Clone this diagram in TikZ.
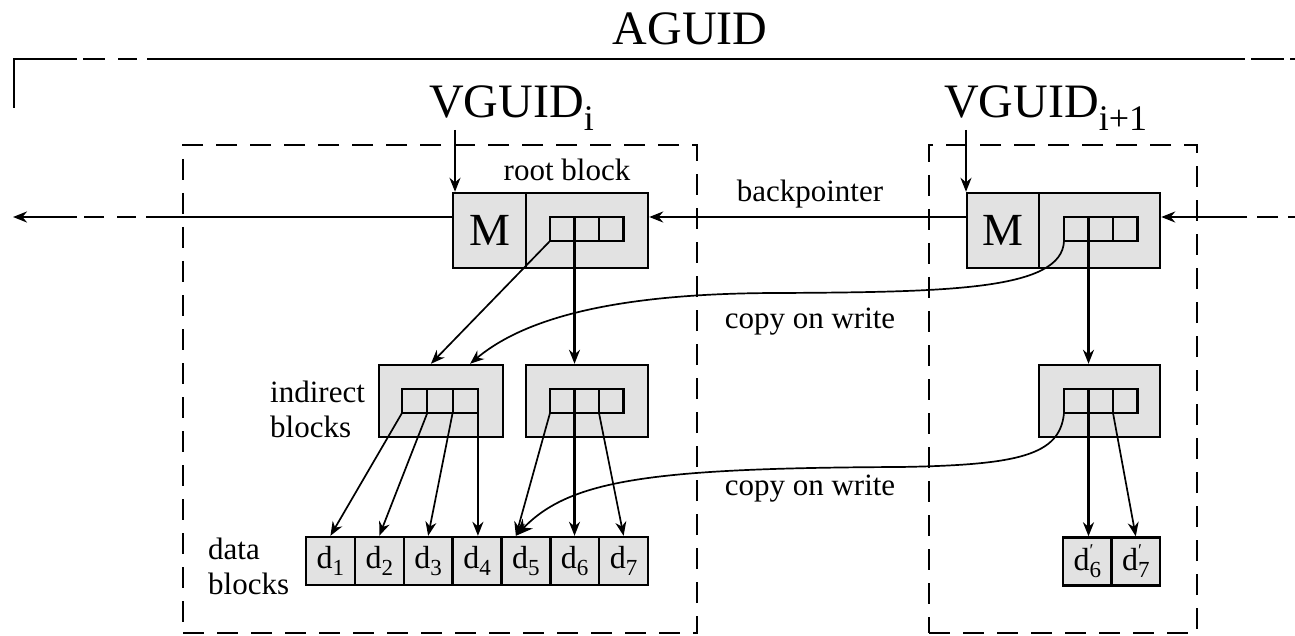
\documentclass[tikz,border=0pt]{standalone}
\usepackage{fontspec}
\setmainfont{Liberation Serif}
\usetikzlibrary{arrows.meta,calc}
\definecolor{blockfill}{HTML}{E2E2E2}
\newcommand\dsub[1]{d\raisebox{-7pt}{\fontsize{23}{23}\selectfont #1}}
\newcommand\dsubp[1]{d\rlap{\raisebox{14pt}{\fontsize{18}{18}\selectfont ′}}\raisebox{-7pt}{\fontsize{23}{23}\selectfont #1}}
\begin{document}
\begin{tikzpicture}[x=1pt,y=-1pt,
  blk/.style={draw,line width=2.4pt,fill=blockfill,inner sep=0pt},
  cell/.style={draw,line width=2.1pt,minimum width=24.5pt,minimum height=24pt,inner sep=0pt,outer sep=0pt},
  dcell/.style={draw,line width=2.4pt,fill=blockfill,minimum width=48.86pt,minimum height=48pt,inner sep=0pt,font=\fontsize{32}{32}\selectfont},
  area/.style={draw,line width=2.4pt,dash pattern=on 21pt off 13pt,inner sep=0pt},
  ptr/.style={line width=2.2pt,-{Stealth[length=14pt,width=11pt]}},
  ptrthin/.style={line width=1.7pt,-{Stealth[length=14pt,width=11pt]}},
  lbl/.style={font=\fontsize{31}{35}\selectfont,inner sep=0pt},
  big/.style={font=\fontsize{48}{52}\selectfont,inner sep=0pt},
]
\useasboundingbox (0,0) rectangle (1295,636);

% outer AGUID frame
\coordinate (fr0) at (14,108);
\coordinate (fr1) at (14,59);
\coordinate (fr2) at (1295,59);
\draw[line width=2.5pt,dash pattern=on 112pt off 6pt on 22pt off 13pt on 19pt off 10pt on 1098pt off 6pt on 33pt off 6pt on 40pt] (fr0) -- (fr1) -- (fr2);
\node[big,anchor=base] (aguid) at (690,45) {AGUID};

% volume labels
\node[big,anchor=base west] (vg1) at (429,118) {VGUID\raisebox{-13pt}{\fontsize{36}{36}\selectfont i}};
\node[big,anchor=base west] (vg2) at (944,118) {VGUID\raisebox{-13pt}{\fontsize{36}{36}\selectfont i+1}};

% dashed volume boxes
\node[area,minimum width=514pt,minimum height=488pt] (vol1) at (440,389) {};
\node[area,minimum width=268pt,minimum height=488pt] (vol2) at (1063,389) {};

% root blocks
\node[blk,minimum width=73pt,minimum height=75pt,font=\fontsize{46}{46}\selectfont] (ML) at (489.5,230.5) {M};
\node[blk,minimum width=122pt,minimum height=75pt] (RL) at (587,230.5) {};
\node[cell] (rl1) at (562.25,229) {};
\node[cell] (rl2) at (586.75,229) {};
\node[cell] (rl3) at (611.25,229) {};

\node[blk,minimum width=72pt,minimum height=75pt,font=\fontsize{46}{46}\selectfont] (MR) at (1003,230.5) {M};
\node[blk,minimum width=121pt,minimum height=75pt] (RR) at (1099.5,230.5) {};
\node[cell] (rr1) at (1076.25,229) {};
\node[cell] (rr2) at (1100.75,229) {};
\node[cell] (rr3) at (1125.25,229) {};

% indirect blocks
\node[blk,minimum width=124pt,minimum height=72pt] (IL) at (441,401) {};
\node[cell,minimum width=25.3pt] (il1) at (414.65,401) {};
\node[cell,minimum width=25.3pt] (il2) at (439.95,401) {};
\node[cell,minimum width=25.3pt] (il3) at (465.25,401) {};

\node[blk,minimum width=122pt,minimum height=72pt] (IM) at (587,401) {};
\node[cell] (im1) at (562.25,401) {};
\node[cell] (im2) at (586.75,401) {};
\node[cell] (im3) at (611.25,401) {};

\node[blk,minimum width=121pt,minimum height=72pt] (IR) at (1099.5,401) {};
\node[cell] (ir1) at (1076.25,401) {};
\node[cell] (ir2) at (1100.75,401) {};
\node[cell] (ir3) at (1125.25,401) {};

% data blocks
\node[dcell] (d1) at (330.43,561) {\dsub{1}};
\node[dcell] (d2) at (379.29,561) {\dsub{2}};
\node[dcell] (d3) at (428.15,561) {\dsub{3}};
\node[dcell] (d4) at (477.01,561) {\dsub{4}};
\node[dcell] (d5) at (525.87,561) {\dsub{5}};
\node[dcell] (d6) at (574.73,561) {\dsub{6}};
\node[dcell] (d7) at (623.59,561) {\dsub{7}};
\node[dcell,minimum width=48.5pt] (e6) at (1087.25,561.5) {\dsubp{6}};
\node[dcell,minimum width=48.5pt] (e7) at (1135.75,561.5) {\dsubp{7}};

% labels
\node[lbl,anchor=base] (rootlbl) at (567,181) {root block};
\node[lbl,anchor=base] (bplbl) at (810,202) {backpointer};
\node[lbl,anchor=base] (cow1) at (810,328) {copy on write};
\node[lbl,anchor=base] (cow2) at (810,495) {copy on write};
\node[lbl,anchor=north west,align=left] (indlbl) at (270,381) {indirect\\blocks};
\node[lbl,anchor=north west,align=left] (datalbl) at (208,538) {data\\blocks};

% VGUID pointers
\coordinate (vga) at (455,130);
\coordinate (vgb) at (966,130);
\draw[ptr] (vga) -- (vga |- ML.north);
\draw[ptr] (vgb) -- (vgb |- MR.north);

% horizontal chain
\coordinate (lend) at (13,217);
\coordinate (rin) at (1295,217);
\draw[line width=2.5pt,-{Stealth[length=14pt,width=11pt]},dash pattern=on 306pt off 10pt on 19pt off 13pt on 20pt off 7pt on 80pt] (ML.west |- rl1.north) -- (lend);
\draw[line width=2.5pt,-{Stealth[length=14pt,width=11pt]}] (MR.west |- rr1.north) -- (RL.east |- rl1.north);
\draw[line width=2.5pt,-{Stealth[length=14pt,width=11pt]},dash pattern=on 7pt off 10pt on 21pt off 10pt on 200pt] (rin) -- (RR.east |- rr1.north);

% root -> indirect
\coordinate (ILa) at ($(IL.north west)!0.42!(IL.north east)$);
\coordinate (ILb) at ($(IL.north west)!0.73!(IL.north east)$);
\draw[ptrthin] (rl1.south west) -- (ILa);
\draw[ptr] (rl2.south west) -- (rl2.south west |- IM.north);
\draw[ptrthin] (rr1.south west) .. controls (1062,290) and (950,292) .. (780,293) .. controls (640,293) and (533,311) .. (ILb);
\draw[ptr] (rr2.south west) -- (rr2.south west |- IR.north);

% indirect -> data
\coordinate (d5a) at ($(d5.north)+(-10,0)$);
\draw[ptrthin] (il1.south west) -- (d1.north);
\draw[ptrthin] (il2.south west) -- (d2.north);
\draw[ptrthin] (il3.south west) -- (d3.north);
\draw[ptr] (il3.south east) -- (il3.south east |- d4.north);
\draw[ptrthin] (im1.south west) -- (d5a);
\draw[ptr] (im2.south west) -- (im2.south west |- d6.north);
\draw[ptrthin] (im3.south west) -- (d7.north);
\draw[ptr] (ir2.south west) -- (ir2.south west |- e6.north);
\draw[ptrthin] (ir3.south west) -- (e7.north);
\draw[line width=1.7pt,-{Stealth[length=17pt,width=14pt]}] (ir1.south west) .. controls (1060,455) and (1020,465) .. (900,467) .. controls (650,468) and (570,480) .. (d5a);
\end{tikzpicture}
\end{document}
